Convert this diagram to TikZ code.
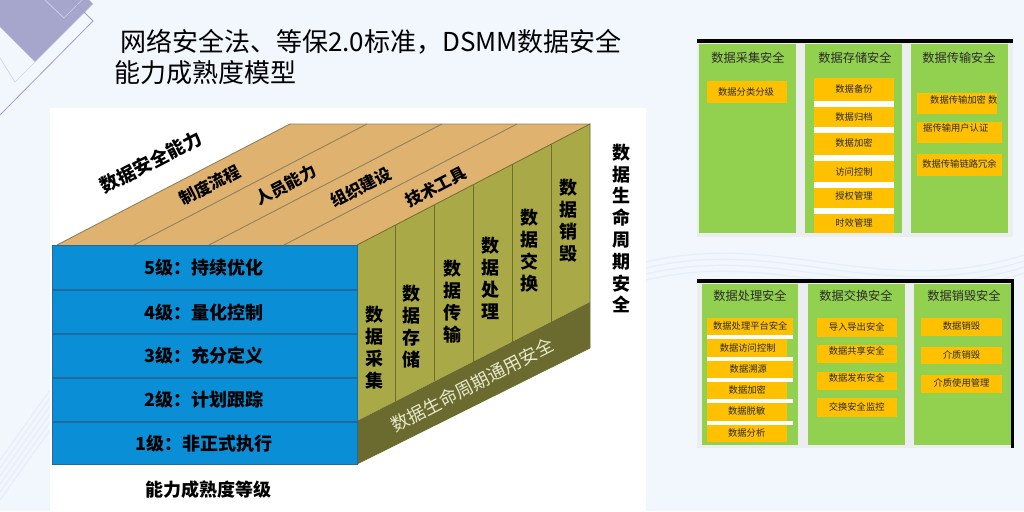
\documentclass[tikz,border=0pt]{standalone}
\usepackage{fontspec}
\setmainfont{Noto Sans CJK SC}
\newfontfamily\cjk{Noto Sans CJK SC}
\definecolor{bgcol}{HTML}{F1F7FD}
\definecolor{toptan}{HTML}{DFB36F}
\definecolor{tanline}{HTML}{8E8160}
\definecolor{faceolive}{HTML}{A9A947}
\definecolor{oliveline}{HTML}{6E6E2E}
\definecolor{darkolive}{HTML}{6B6B2F}
\definecolor{boxblue}{HTML}{0A8ED6}
\definecolor{blueline}{HTML}{1F6A9E}
\definecolor{pgreen}{HTML}{92D050}
\definecolor{porange}{HTML}{FFC000}
\definecolor{pgray}{HTML}{ECEDEE}
\definecolor{lav}{HTML}{A6A6CD}
\definecolor{lavline}{HTML}{9E9ECF}
\definecolor{faintline}{HTML}{CAD5EC}
\definecolor{hdrtext}{HTML}{2B2B2B}
\definecolor{striptext}{HTML}{E8E8CC}
\definecolor{wave}{HTML}{E6EEF9}
\begin{document}
\begin{tikzpicture}[x=1pt,y=-1pt,
  every node/.style={inner sep=0pt},
  lvl/.style={font=\cjk\bfseries\fontsize{18}{20}\selectfont,text=black},
  vlab/.style={align=center,font=\cjk\bfseries\fontsize{18}{22}\selectfont,text=black},
  vlabr/.style={align=center,font=\cjk\bfseries\fontsize{18}{21.8}\selectfont,text=black},
  toplab/.style={rotate=27.4,font=\cjk\bfseries\fontsize{16.5}{18}\selectfont,text=black},
  striplab/.style={rotate=27.5,font=\cjk\fontsize{18}{20}\selectfont,text=striptext},
  titlefont/.style={font=\cjk\fontsize{26}{30}\selectfont,text=black,anchor=west},
  hdr/.style={font=\cjk\fontsize{12.2}{14}\selectfont,text=hdrtext},
  item/.style={font=\cjk\fontsize{9.3}{11}\selectfont,text=hdrtext},
  colfill/.style={fill=pgreen},
  ofill/.style={fill=porange},
  wfill/.style={fill=white}]
\useasboundingbox (0,0) rectangle (1024,511);
% background and decoration
\begin{scope}
\clip (0,0) rectangle (1024,511);
\fill[bgcol] (0,0) rectangle (1024,511);
\fill[lav] (35,62) -- (93,4) -- (35,-54) -- (-23,4) -- cycle;
\draw[faintline, line width=0.7] (0,58) -- (15,82) -- (93,4);
\draw[faintline, line width=0.7] (45,0) -- (64,18) -- (82,0);
\draw[lavline, line width=0.8] (0,115) -- (93,21) -- (72,0);
\foreach \s in {0,8,16,24,32,40}
  \draw[wave, line width=1.2] (0,{500-\s}) -- (50,{430-\s});
\foreach \s in {0,6,12,18}
  \draw[wave, line width=1.2] (646,{262+\s}) .. controls (780,{230+\s}) and (880,{300+\s}) .. (1024,{255+\s});
\end{scope}
% white panel
\fill[white] (50,108) rectangle (646,511);
% title
\node[titlefont] (title1) at (120,42) {网络安全法、等保2.0标准，DSMM数据安全};
\node[titlefont] (title2) at (114,72.5) {能力成熟度模型};
% top face
\fill[toptan] (57,245) -- (357,245) -- (590,124) -- (290,124) -- cycle;
\draw[tanline, line width=0.9] (57,245) -- (290,124) -- (590,124);
\foreach \a in {134,209,284}
  \draw[tanline, line width=0.9] (\a,245) -- ++(233,-121);
% right face
\fill[faceolive] (357,245) -- (590,124) -- (590,302) -- (357,421) -- cycle;
\fill[darkolive] (357,421) -- (590,302) -- (590,348) -- (357,464) -- cycle;
\draw[oliveline, line width=0.8] (395.8,224.85) -- (395.8,401.2);
\draw[oliveline, line width=0.8] (434.7,204.65) -- (434.7,381.35);
\draw[oliveline, line width=0.8] (473.5,184.5) -- (473.5,361.5);
\draw[oliveline, line width=0.8] (512.3,164.35) -- (512.3,341.7);
\draw[oliveline, line width=0.8] (551.2,144.15) -- (551.2,321.85);
\draw[oliveline, line width=0.8] (357,245) -- (590,124) -- (590,348) -- (357,464);
% front face
\fill[boxblue] (52,245) rectangle (357,464);
\draw[blueline, line width=1] (52,245) rectangle (357,464);
\foreach \y in {290,334,378,422}
  \draw[blueline, line width=1.4] (52,\y) -- (357,\y);
% labels of the box
\node[lvl] (l5) at (204,268) {5级：持续优化};
\node[lvl] (l4) at (204,313) {4级：量化控制};
\node[lvl] (l3) at (204,356) {3级：充分定义};
\node[lvl] (l2) at (204,400) {2级：计划跟踪};
\node[lvl] (l1) at (204,444) {1级：非正式执行};
\node[lvl] (lvlname) at (208,490) {能力成熟度等级};
\node[toplab,font=\cjk\bfseries\fontsize{18.5}{20}\selectfont] (cap) at (151,162) {数据安全能力};
\node[toplab] (t1) at (210,185) {制度流程};
\node[toplab] (t2) at (286,185) {人员能力};
\node[toplab] (t3) at (361,187) {组织建设};
\node[toplab] (t4) at (436,187) {技术工具};
\node[vlab] (c1) at (374,347.5) {数\\据\\采\\集};
\node[vlab] (c2) at (411,326.5) {数\\据\\存\\储};
\node[vlab] (c3) at (452,301.5) {数\\据\\传\\输};
\node[vlab] (c4) at (490,278.5) {数\\据\\处\\理};
\node[vlab] (c5) at (529,251) {数\\据\\交\\换};
\node[vlab] (c6) at (568,220.5) {数\\据\\销\\毁};
\node[striplab] (strip) at (472,385) {数据生命周期通用安全};
\node[vlabr] (life) at (621,228.5) {数\\据\\生\\命\\周\\期\\安\\全};
% ---------- right top panel ----------
\fill[black] (697,39) rectangle (1013,43);
\fill[pgray] (697,43) rectangle (1013,237);
\fill[colfill] (699,44) rectangle (796,233);
\fill[colfill] (805,44) rectangle (902,233);
\fill[colfill] (911,44) rectangle (1008,233);
\node[hdr] (hA) at (748,58) {数据采集安全};
\node[hdr] (hB) at (855,58) {数据存储安全};
\node[hdr] (hC) at (959,58) {数据传输安全};
\fill[ofill] (707,81) rectangle (787,103);
\node[item] (a1) at (746,92) {数据分类分级};
\fill[ofill] (814,78.3) rectangle (894,233);
\foreach \y in {101,127.3,155,181.7,207.7}
  \fill[wfill] (814,\y) rectangle (894,\y+6);
\node[item] (b1) at (854,89.3) {数据备份};
\node[item] (b2) at (854,117.3) {数据归档};
\node[item] (b3) at (854,143.3) {数据加密};
\node[item] (b4) at (854,171.7) {访问控制};
\node[item] (b5) at (854,196) {授权管理};
\node[item] (b6) at (854,223.3) {时效管理};
\fill[ofill] (917,93.3) rectangle (997,114);
\fill[ofill] (917,121.7) rectangle (1002,142.7);
\fill[ofill] (917,154.3) rectangle (1002,175.7);
\node[item,anchor=west] (cc1) at (930,99.5) {数据传输加密 数};
\node[item,anchor=west] (cc2) at (923,128.3) {据传输用户认证};
\node[item] (cc3) at (959.5,164) {数据传输链路冗余};
% ---------- right bottom panel ----------
\fill[black] (697,279) rectangle (1013,283);
\fill[pgray] (697,283) rectangle (1011,447.5);
\fill[black] (1011,279) rectangle (1013.5,447.5);
\fill[colfill] (701.5,284) rectangle (798,445);
\fill[colfill] (807.7,284) rectangle (905,445);
\fill[colfill] (914,284) rectangle (1011,445);
\node[hdr] (hD) at (750,296) {数据处理安全};
\node[hdr] (hE) at (856,296) {数据交换安全};
\node[hdr] (hF) at (964,296) {数据销毁安全};
\fill[ofill] (707.3,317.7) rectangle (792.7,335);
\fill[ofill] (707.3,339) rectangle (787.3,356.7);
\fill[ofill] (707.3,360.7) rectangle (792.7,378.3);
\fill[ofill] (707.3,382.3) rectangle (787.3,399.3);
\fill[ofill] (707.3,403.3) rectangle (787.3,420.7);
\fill[ofill] (707.3,424.7) rectangle (787.3,441.7);
\foreach \y in {335,356.7,378.3,399.3,420.7}
  \fill[wfill] (707.3,\y) rectangle (792.7,\y+4);
\node[item] (d1) at (750.3,326) {数据处理平台安全};
\node[item] (d2) at (747.7,347.7) {数据访问控制};
\node[item] (d3) at (748.3,369) {数据溯源};
\node[item] (d4) at (747.3,390) {数据加密};
\node[item] (d5) at (746.7,411) {数据脱敏};
\node[item] (d6) at (746.7,432.7) {数据分析};
\fill[ofill] (816.7,318.3) rectangle (896.7,336.7);
\fill[ofill] (816.7,345) rectangle (896.7,363.3);
\fill[ofill] (816.7,371.7) rectangle (896.7,390);
\fill[ofill] (816.7,398.3) rectangle (896.7,416.7);
\node[item] (e1) at (856.7,326.7) {导入导出安全};
\node[item] (e2) at (856.7,350.5) {数据共享安全};
\node[item] (e3) at (856.7,377.5) {数据发布安全};
\node[item] (e4) at (856.7,406.7) {交换安全监控};
\fill[ofill] (921,317.7) rectangle (1001.7,336);
\fill[ofill] (921,346.7) rectangle (1001.7,364.3);
\fill[ofill] (921,375) rectangle (1001.7,392.7);
\node[item] (f1) at (961.5,326) {数据销毁};
\node[item] (f2) at (961.5,354.5) {介质销毁};
\node[item] (f3) at (961.5,383.3) {介质使用管理};
\end{tikzpicture}
\end{document}
